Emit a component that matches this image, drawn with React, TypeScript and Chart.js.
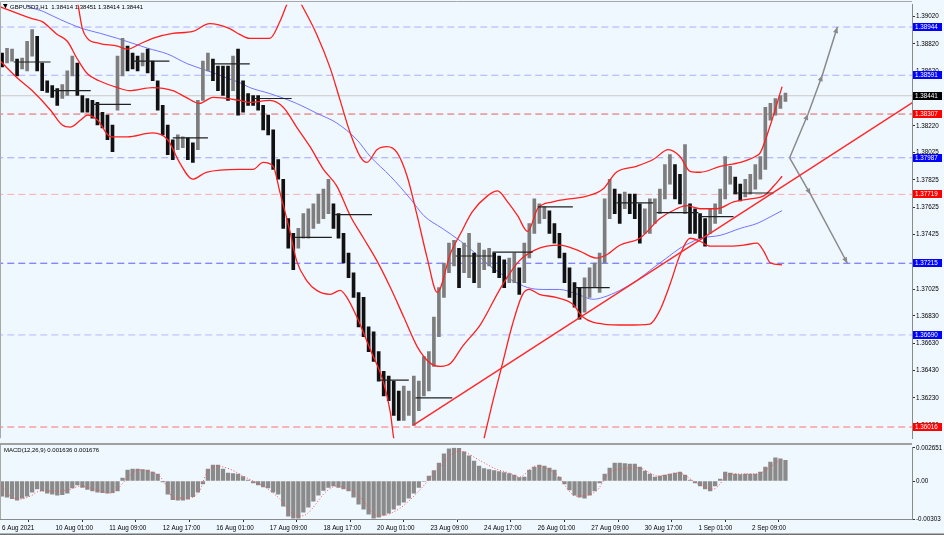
import React, { useEffect, useRef } from "react";
import { Chart, registerables } from "chart.js";

Chart.register(...registerables);

const FONT_FAMILY = "'Liberation Sans', 'DejaVu Sans', Arial, sans-serif";
const BG = "#f0f8ff";

// ---- time axis (bar index, 1 bar = 1 hour, weekends skipped) ----
const X_MIN = -1.2;
const X_MAX = 543.6;
const BAR_STEP = 3;
const TIME_TICKS = [0, 32, 64, 96, 128, 160, 192, 224, 256, 288, 320, 352, 384, 416, 448];
const TIME_LABELS = [
  "6 Aug 2021", "10 Aug 01:00", "11 Aug 09:00", "12 Aug 17:00", "16 Aug 01:00",
  "17 Aug 09:00", "18 Aug 17:00", "20 Aug 01:00", "23 Aug 09:00", "24 Aug 17:00",
  "26 Aug 01:00", "27 Aug 09:00", "30 Aug 17:00", "1 Sep 01:00", "2 Sep 09:00",
];

// ---- price axis ----
const PRICE_MIN = 1.35934;
const PRICE_MAX = 1.39107;
const PRICE_TICKS = [
  1.3902, 1.3882, 1.3862, 1.3842, 1.3822, 1.38025, 1.37825, 1.37625, 1.37425,
  1.37225, 1.37025, 1.3683, 1.3663, 1.3643, 1.3623, 1.3603,
];

// ---- price bars (high / low, one entry per 3 hourly bars) ----
const HIGHS = [
  1.38753, 1.38789, 1.38782, 1.3871, 1.38717, 1.3884, 1.38926, 1.38876, 1.38681, 1.38551,
  1.38515, 1.38494, 1.38522, 1.38623, 1.38731, 1.38681, 1.38443, 1.38421, 1.38407, 1.38393,
  1.3832, 1.38299, 1.38227, 1.38731, 1.38861, 1.38804, 1.38753, 1.38731, 1.38753, 1.38782,
  1.38695, 1.38551, 1.38371, 1.38227, 1.38119, 1.38155, 1.3814, 1.38133, 1.38097, 1.38407,
  1.38695, 1.38753, 1.3871, 1.38659, 1.38659, 1.38659, 1.38731, 1.38782, 1.38551, 1.38457,
  1.38443, 1.38443, 1.38371, 1.38299, 1.38191, 1.37974, 1.3783, 1.37542, 1.37434, 1.3747,
  1.37578, 1.37614, 1.3765, 1.37722, 1.37758, 1.3783, 1.3765, 1.37578, 1.37434, 1.37289,
  1.37145, 1.37001, 1.36965, 1.36749, 1.36713, 1.36568, 1.36424, 1.36388, 1.36352, 1.3628,
  1.36316, 1.3628, 1.36388, 1.36352, 1.36532, 1.36568, 1.36821, 1.37037, 1.37217, 1.37362,
  1.37383, 1.37325, 1.37362, 1.37434, 1.37289, 1.37362, 1.37311, 1.37325, 1.37289, 1.37268,
  1.37239, 1.37253, 1.37289, 1.37181, 1.37362, 1.37506, 1.37686, 1.3765, 1.37628, 1.37599,
  1.37506, 1.37434, 1.37289, 1.37181, 1.37073, 1.37037, 1.37109, 1.37181, 1.37217, 1.37289,
  1.37686, 1.3783, 1.37758, 1.37722, 1.37736, 1.37722, 1.37722, 1.3765, 1.37614, 1.37686,
  1.37686, 1.37758, 1.37938, 1.3801, 1.37938, 1.37866, 1.38083, 1.3765, 1.37614, 1.37578,
  1.37542, 1.37614, 1.3765, 1.37758, 1.37996, 1.37924, 1.37845, 1.37794, 1.3783, 1.37866,
  1.37938, 1.37996, 1.38357, 1.38385, 1.38421, 1.38443, 1.3846,
];
const LOWS = [
  1.38652, 1.38681, 1.38695, 1.38587, 1.38638, 1.38623, 1.38731, 1.38623, 1.38479, 1.38465,
  1.38429, 1.38371, 1.38421, 1.38443, 1.38587, 1.38443, 1.3832, 1.3832, 1.38277, 1.38227,
  1.38205, 1.38119, 1.38032, 1.38335, 1.38587, 1.38623, 1.38638, 1.38623, 1.38659, 1.38609,
  1.38551, 1.38335, 1.38155, 1.3801, 1.37974, 1.38046, 1.38061, 1.37974, 1.37953, 1.38046,
  1.38407, 1.38623, 1.38551, 1.38479, 1.38443, 1.38407, 1.38479, 1.38299, 1.3832, 1.38371,
  1.38371, 1.38335, 1.38191, 1.38155, 1.37902, 1.3783, 1.3747, 1.37325, 1.37167, 1.37325,
  1.37398, 1.37398, 1.3747, 1.37506, 1.37542, 1.37578, 1.3747, 1.37398, 1.37217, 1.37109,
  1.36965, 1.36749, 1.36677, 1.36568, 1.36496, 1.36352, 1.36244, 1.36208, 1.361, 1.36064,
  1.36064, 1.361, 1.36028, 1.36136, 1.36244, 1.3628, 1.3646, 1.36677, 1.36965, 1.37145,
  1.37196, 1.37037, 1.37145, 1.37109, 1.37073, 1.37037, 1.37167, 1.37196, 1.37145, 1.37109,
  1.37037, 1.37073, 1.37073, 1.36987, 1.37073, 1.37253, 1.37434, 1.37506, 1.37542, 1.37434,
  1.37362, 1.37253, 1.37073, 1.36965, 1.36893, 1.36806, 1.36857, 1.36965, 1.37037, 1.37001,
  1.37217, 1.37542, 1.37578, 1.37506, 1.37614, 1.37578, 1.37542, 1.37362, 1.37434, 1.37434,
  1.37506, 1.37578, 1.37686, 1.37794, 1.37686, 1.3765, 1.37578, 1.37434, 1.37434, 1.37398,
  1.3734, 1.37434, 1.37506, 1.37578, 1.37686, 1.37794, 1.37722, 1.37672, 1.377, 1.37722,
  1.37758, 1.3783, 1.37902, 1.38263, 1.38299, 1.38349, 1.384,
];

// ---- Bollinger bands (bar index, price) ----
const BB_UPPER = [
  [40, 1.39272], [45, 1.39128], [48, 1.38933], [51, 1.38861], [58, 1.38825], [69, 1.38804],
  [75, 1.38782], [82, 1.38818], [90, 1.38861], [102, 1.38897], [114, 1.38912], [124, 1.38969],
  [136, 1.38933], [142, 1.3889], [148, 1.38861], [160, 1.38861], [166, 1.38984], [170, 1.39106],
  [174, 1.39215], [178, 1.39128], [188, 1.3889], [196, 1.38645], [202, 1.38407], [208, 1.38169],
  [214, 1.37996], [218, 1.37953], [224, 1.38046], [230, 1.38068], [236, 1.38025], [242, 1.37852],
  [248, 1.37563], [254, 1.37253], [260, 1.37001], [268, 1.37289], [274, 1.37434], [281, 1.37592],
  [290, 1.37708], [296, 1.37744], [302, 1.37664], [308, 1.37563], [314, 1.37448], [320, 1.37614],
  [329, 1.37664], [339, 1.37686], [350, 1.37708], [359, 1.37758], [367, 1.37881], [379, 1.37924],
  [389, 1.37974], [398, 1.38046], [405, 1.37996], [411, 1.37888], [417, 1.37881], [429, 1.37924],
  [441, 1.37953], [450, 1.37996], [453, 1.38025], [459, 1.38227], [466, 1.38508],
];
const BB_MIDDLE = [
  [-1, 1.39092], [18, 1.39005], [24, 1.38984], [33, 1.3889], [39, 1.3884], [45, 1.3871],
  [51, 1.38602], [58, 1.38551], [69, 1.38501], [76, 1.38479], [90, 1.38501], [102, 1.38479],
  [110, 1.38429], [118, 1.38385], [126, 1.38429], [142, 1.38407], [148, 1.38393], [160, 1.38407],
  [168, 1.38357], [176, 1.38212], [184, 1.38068], [192, 1.37902], [200, 1.3778], [208, 1.37563],
  [216, 1.37398], [224, 1.37232], [232, 1.37037], [240, 1.36821], [248, 1.36605], [256, 1.36482],
  [262, 1.3646], [268, 1.36482], [275, 1.36605], [286, 1.3677], [298, 1.37037], [309, 1.37232],
  [321, 1.37325], [333, 1.37347], [345, 1.37304], [355, 1.37253], [361, 1.37275], [369, 1.37347],
  [381, 1.37398], [393, 1.37542], [403, 1.37614], [409, 1.37636], [417, 1.37614], [427, 1.37614],
  [437, 1.37664], [447, 1.37686], [455, 1.37708], [461, 1.3778], [466, 1.37852],
];
const BB_LOWER = [
  [-1, 1.38695], [9, 1.38573], [18, 1.38479], [29, 1.38335], [36, 1.38227], [41, 1.38212],
  [47, 1.38263], [51, 1.38299], [57, 1.38263], [65, 1.3814], [75, 1.3814], [90, 1.38169],
  [99, 1.38119], [106, 1.37953], [114, 1.3783], [122, 1.37881], [142, 1.37902], [150, 1.37902],
  [156, 1.37953], [162, 1.37924], [166, 1.37736], [172, 1.37448], [176, 1.37232], [182, 1.37088],
  [188, 1.37016], [196, 1.36987], [202, 1.37016], [206, 1.36965], [212, 1.36821], [220, 1.36583],
  [228, 1.36338], [232, 1.36121], [234, 1.35934], [244, 1.35523], [262, 1.35235], [280, 1.35523],
  [288, 1.35934], [293, 1.36194], [299, 1.36482], [305, 1.3677], [311, 1.36987], [315, 1.37023],
  [321, 1.36987], [331, 1.36965], [341, 1.36915], [347, 1.36821], [359, 1.3677], [373, 1.36763],
  [387, 1.3677], [393, 1.36871], [399, 1.37059], [405, 1.37275], [411, 1.37398], [417, 1.37376],
  [423, 1.3734], [435, 1.3734], [443, 1.37347], [451, 1.37362], [455, 1.37304], [459, 1.37217],
  [466, 1.37203],
];
// ---- slow moving average (blue) ----
const MA_BLUE = [
  [11, 1.39164], [15, 1.39106], [25, 1.39056], [35, 1.38998], [48, 1.38933], [59, 1.38897],
  [69, 1.38861], [78, 1.38825], [87, 1.38789], [99, 1.38746], [111, 1.38674], [123, 1.38623],
  [134, 1.38573], [142, 1.38537], [148, 1.38501], [160, 1.38457], [176, 1.38385], [188, 1.38313],
  [200, 1.38241], [212, 1.38119], [220, 1.37996], [232, 1.37852], [244, 1.37686], [252, 1.37563],
  [263, 1.3747], [274, 1.37376], [284, 1.37275], [293, 1.37181], [304, 1.37095], [314, 1.37037],
  [323, 1.37023], [333, 1.37023], [344, 1.36987], [353, 1.36951], [359, 1.36965], [369, 1.37016],
  [379, 1.37088], [389, 1.37181], [397, 1.37253], [405, 1.37325], [413, 1.37376], [417, 1.37398],
  [429, 1.37419], [441, 1.3747], [451, 1.37506], [457, 1.37542], [466, 1.376],
];

// ---- drawn objects ----
const TREND_LINE = [[245.5, 1.36028], [545, 1.384]];
const DAILY_SEGMENTS = [
  [7, 29, 1.38688], [31, 53, 1.38479], [54, 77, 1.38378], [78, 100, 1.38695], [102, 123, 1.38133],
  [126, 148, 1.38674], [151, 173, 1.38421], [174, 197, 1.37405], [199, 221, 1.37571],
  [224, 243, 1.36359], [247, 269, 1.36229], [271, 293, 1.37268], [293, 317, 1.37297],
  [320, 341, 1.37628], [342, 363, 1.37037], [367, 389, 1.37657], [391, 416, 1.37585],
  [416, 437, 1.37556], [437, 461, 1.37729],
];
const ARROW_UP = [[470.5, 1.37987], [481.5, 1.38307], [490, 1.38591], [499, 1.38944]];
const ARROW_DOWN = [[470.5, 1.37987], [483, 1.37719], [505, 1.37215]];

const LEVEL_VALUES = [1.38944, 1.38591, 1.38441, 1.38307, 1.37987, 1.37719, 1.37215, 1.3669, 1.36016];
const LEVEL_LABELS = ["1.38944", "1.38591", "1.38441", "1.38307", "1.37987", "1.37719", "1.37215", "1.36690", "1.36016"];
const LEVEL_LINE_COLORS = ["#a9adff", "#a9adff", "#c8c8c8", "#e06060", "#a0a4ff", "#ffaaaa", "#5a5aff", "#b4b8ff", "#ff7070"];
const LEVEL_DASHED = [true, true, false, true, true, true, true, true, true];
const LEVEL_BOX_COLORS = ["#0000ff", "#0000ff", "#000000", "#ff0000", "#0000ff", "#ff0000", "#0000ff", "#0000ff", "#ff0000"];

const TITLE_TEXT = "GBPUSD3,H1  1.38414 1.38451 1.38414 1.38441";

// ---- MACD(12,26,9) ----
const MACD_MIN = -0.00303;
const MACD_MAX = 0.002651;
const MACD_TICKS = [0.002651, 0, -0.00303];
const MACD_TICK_LABELS = ["0.002651", "0.00", "-0.00303"];
const MACD_TITLE = "MACD(12,26,9) 0.001636 0.001676";
const MACD_HIST = [
  -0.0012, -0.00128, -0.0014, -0.00152, -0.00136, -0.0012, -0.00088, -0.00064, -0.0008, -0.00096,
  -0.00104, -0.00112, -0.00108, -0.00096, -0.00056, -0.00032, -0.00052, -0.00068, -0.0008, -0.00088,
  -0.00092, -0.00096, -0.00092, -0.0008, 0.00024, 0.00088, 0.00096, 0.00096, 0.00092, 0.00088,
  0.00072, 0.00056, -0.00008, -0.00104, -0.00148, -0.00152, -0.00152, -0.00144, -0.00124, -0.00088,
  -0.00024, 0.00096, 0.00128, 0.00128, 0.00096, 0.00064, 0.0006, 0.00056, 0.00036, 0.00008,
  -0.00016, -0.00032, -0.00048, -0.00056, -0.00088, -0.00104, -0.002, -0.0028, -0.00296, -0.00296,
  -0.00248, -0.00208, -0.0016, -0.00112, -0.00076, -0.00052, -0.0004, -0.00052, -0.00064, -0.0008,
  -0.00128, -0.00184, -0.00224, -0.00264, -0.00296, -0.00288, -0.00272, -0.00256, -0.00224, -0.00192,
  -0.00168, -0.00136, -0.00096, -0.00052, -0.00004, 0.0004, 0.00084, 0.00144, 0.00216, 0.00256,
  0.00264, 0.0026, 0.00232, 0.002, 0.0016, 0.0012, 0.001, 0.00092, 0.00084, 0.00076,
  0.00068, 0.0006, 0.00048, 0.00028, 0.00032, 0.00088, 0.00112, 0.00128, 0.0012, 0.00104,
  0.00088, 0.00032, -0.00024, -0.00072, -0.00112, -0.00128, -0.00136, -0.00112, -0.0008, -0.00016,
  0.00056, 0.00104, 0.00144, 0.00144, 0.0014, 0.00136, 0.00136, 0.00112, 0.0008, 0.00056,
  0.00032, 0.0004, 0.00048, 0.00056, 0.00064, 0.00072, 0.00048, 0.00008, -0.00016, -0.0004,
  -0.00064, -0.0008, -0.0004, 0.00016, 0.00072, 0.00064, 0.00056, 0.00052, 0.00056, 0.00056,
  0.00056, 0.00072, 0.00112, 0.00152, 0.00184, 0.00176, 0.00164,
];
const MACD_SIGNAL = [
  [0, -0.0004], [3, -0.00096], [7, -0.00136], [11, -0.00144], [17, -0.0012], [23, -0.0008],
  [30, -0.0008], [39, -0.00072], [47, -0.0004], [53, -0.00056], [59, -0.0008], [66, -0.00096],
  [69, -0.00064], [75, 0.00024], [81, 0.00088], [87, 0.0008], [94, 0.0004], [99, -0.00056],
  [102, -0.00136], [111, -0.00136], [118, -0.0008], [122, 0.00056], [128, 0.0012], [136, 0.00096],
  [144, 0.0004], [150, 0], [158, -0.00056], [166, -0.00144], [172, -0.0024], [178, -0.0028],
  [182, -0.00264], [194, -0.0008], [200, -0.0004], [212, -0.00104], [225, -0.0028], [237, -0.00224],
  [249, -0.0008], [261, 0.00104], [273, 0.0024], [286, 0.0016], [295, 0.00096], [303, 0.00064],
  [309, 0.00032], [319, 0.0012], [331, 0.00056], [343, -0.0012], [355, -0.0008], [364, 0.0008],
  [380, 0.00104], [392, 0.0004], [404, 0.00064], [416, -0.00024], [425, -0.00064], [435, 0.00056],
  [450, 0.00056], [465, 0.001676],
];

const AXIS_FONT = { family: FONT_FAMILY, size: 6.3 };

function pts(list: number[][]) {
  return list.map(([x, y]) => ({ x, y }));
}

function lineDs(data: any[], color: string, width: number, order: number, extra: any = {}) {
  return {
    type: "line",
    data,
    borderColor: color,
    borderWidth: width,
    pointRadius: 0,
    pointHoverRadius: 0,
    fill: false,
    order,
    ...extra,
  };
}

const mainDecor = {
  id: "mainDecor",
  afterDraw(chart: any) {
    const { ctx, chartArea, scales } = chart;
    ctx.save();
    // frame
    ctx.strokeStyle = "#a8a8a8";
    ctx.lineWidth = 1;
    ctx.beginPath();
    ctx.moveTo(0.5, chartArea.bottom);
    ctx.lineTo(0.5, 1.5);
    ctx.lineTo(chartArea.right, 1.5);
    ctx.stroke();

    // arrow heads
    chart.data.datasets.forEach((ds: any, di: number) => {
      if (!ds.arrowHeads) return;
      const meta = chart.getDatasetMeta(di);
      const p = meta.data;
      ctx.fillStyle = ds.borderColor;
      for (let j = 1; j < p.length; j++) {
        const a = Math.atan2(p[j].y - p[j - 1].y, p[j].x - p[j - 1].x);
        const L = 6, W = 2.6;
        ctx.beginPath();
        ctx.moveTo(p[j].x, p[j].y);
        ctx.lineTo(p[j].x - L * Math.cos(a) + W * Math.sin(a), p[j].y - L * Math.sin(a) - W * Math.cos(a));
        ctx.lineTo(p[j].x - L * Math.cos(a) - W * Math.sin(a), p[j].y - L * Math.sin(a) + W * Math.cos(a));
        ctx.closePath();
        ctx.fill();
      }
    });

    // level boxes on price axis
    const y = scales.y;
    ctx.font = `6.3px ${FONT_FAMILY}`;
    ctx.textBaseline = "middle";
    ctx.textAlign = "left";
    LEVEL_VALUES.forEach((v, i) => {
      const py = Math.round(y.getPixelForValue(v));
      ctx.fillStyle = LEVEL_BOX_COLORS[i];
      ctx.fillRect(chartArea.right + 1, py - 4, 29, 8);
      ctx.fillStyle = "#ffffff";
      ctx.fillText(LEVEL_LABELS[i], chartArea.right + 3, py + 0.5);
    });

    // title
    ctx.fillStyle = "#000";
    ctx.beginPath();
    ctx.moveTo(3, 4);
    ctx.lineTo(7.5, 4);
    ctx.lineTo(5.5, 8.5);
    ctx.closePath();
    ctx.fill();
    ctx.font = `6px ${FONT_FAMILY}`;
    ctx.fillText(TITLE_TEXT, 10, 7);
    ctx.restore();
  },
};

const macdDecor = {
  id: "macdDecor",
  afterDraw(chart: any) {
    const { ctx, chartArea, width, height } = chart;
    ctx.save();
    ctx.fillStyle = "#a0a0a0";
    ctx.fillRect(0, 0, chartArea.right, 2);
    ctx.strokeStyle = "#a8a8a8";
    ctx.lineWidth = 1;
    ctx.beginPath();
    ctx.moveTo(0.5, 2);
    ctx.lineTo(0.5, chartArea.bottom);
    ctx.stroke();
    ctx.fillStyle = "#707070";
    ctx.fillRect(0, height - 1.5, width, 1.5);
    ctx.fillStyle = "#000";
    ctx.font = `6px ${FONT_FAMILY}`;
    ctx.textBaseline = "middle";
    ctx.textAlign = "left";
    ctx.fillText(MACD_TITLE, 4, chartArea.top + 3);
    ctx.restore();
  },
};

function mainConfig(): any {
  const barColors = HIGHS.map((h, k) => {
    if (k === 0) return "#000";
    const m = (h + LOWS[k]) / 2;
    const pm = (HIGHS[k - 1] + LOWS[k - 1]) / 2;
    return m >= pm ? "#7d7d7d" : "#111111";
  });
  const dailyPts: any[] = [];
  DAILY_SEGMENTS.forEach(([a, b, p]) => {
    dailyPts.push({ x: a, y: p }, { x: b, y: p }, { x: b, y: null });
  });
  const datasets: any[] = [
    ...LEVEL_VALUES.map((v, i) =>
      lineDs([{ x: -10, y: v }, { x: 560, y: v }], LEVEL_LINE_COLORS[i], 1, 10, {
        borderDash: LEVEL_DASHED[i] ? [7, 4] : [],
      })
    ),
    lineDs(pts(MA_BLUE), "#7373ff", 1, 6, { cubicInterpolationMode: "monotone" }),
    {
      type: "bar",
      data: HIGHS.map((h, k) => ({ x: k * BAR_STEP, y: [LOWS[k], h] })),
      backgroundColor: barColors,
      borderWidth: 0,
      barThickness: 3,
      order: 5,
    },
    lineDs(pts(BB_UPPER), "#ff1f1f", 1.3, 3, { cubicInterpolationMode: "monotone" }),
    lineDs(pts(BB_MIDDLE), "#ff1f1f", 1.3, 3, { cubicInterpolationMode: "monotone" }),
    lineDs(pts(BB_LOWER), "#ff1f1f", 1.3, 3, { cubicInterpolationMode: "monotone" }),
    lineDs(dailyPts, "#202020", 1.2, 2, { spanGaps: false }),
    lineDs(pts(TREND_LINE), "#ff2a2a", 1.5, 1),
    lineDs(pts(ARROW_UP), "#8a8a8a", 1.5, 1, { arrowHeads: true }),
    lineDs(pts(ARROW_DOWN), "#8a8a8a", 1.5, 1, { arrowHeads: true }),
  ];
  return {
    type: "bar",
    data: { datasets },
    options: {
      animation: false,
      responsive: false,
      devicePixelRatio: 1,
      events: [],
      layout: { padding: { top: 3, bottom: 0, left: 0, right: 0 } },
      plugins: { legend: { display: false }, tooltip: { enabled: false } },
      scales: {
        x: {
          type: "linear",
          min: X_MIN,
          max: X_MAX,
          offset: false,
          display: false,
        },
        y: {
          position: "right",
          min: PRICE_MIN,
          max: PRICE_MAX,
          afterBuildTicks: (ax: any) => {
            ax.ticks = PRICE_TICKS.map((v) => ({ value: v }));
          },
          afterFit: (s: any) => {
            s.width = 32;
          },
          ticks: {
            font: AXIS_FONT,
            color: "#000",
            padding: 1,
            callback: (v: any) => Number(v).toFixed(5),
          },
          grid: { display: true, drawOnChartArea: false, drawTicks: true, tickLength: 3, color: "#303030" },
          border: { display: true, color: "#8a8a8a", width: 1 },
        },
      },
    },
    plugins: [mainDecor],
  };
}

function macdConfig(): any {
  return {
    type: "bar",
    data: {
      datasets: [
        lineDs(pts(MACD_SIGNAL), "#ff4d4d", 1, 1, {
          borderDash: [1, 2],
          cubicInterpolationMode: "monotone",
        }),
        {
          type: "bar",
          data: MACD_HIST.map((v, k) => ({ x: k * BAR_STEP, y: v })),
          backgroundColor: "#8a8a8a",
          borderWidth: 0,
          barThickness: 3.6,
          order: 2,
        },
      ],
    },
    options: {
      animation: false,
      responsive: false,
      devicePixelRatio: 1,
      events: [],
      layout: { padding: { top: 4, bottom: 0, left: 0, right: 0 } },
      plugins: { legend: { display: false }, tooltip: { enabled: false } },
      scales: {
        x: {
          type: "linear",
          min: X_MIN,
          max: X_MAX,
          offset: false,
          afterBuildTicks: (ax: any) => {
            ax.ticks = TIME_TICKS.map((v) => ({ value: v }));
          },
          afterFit: (s: any) => {
            s.height = 16;
          },
          ticks: {
            font: AXIS_FONT,
            color: "#000",
            padding: 2,
            align: "start",
            autoSkip: false,
            maxRotation: 0,
            minRotation: 0,
            callback: (_v: any, i: number) => TIME_LABELS[i],
          },
          grid: { display: true, drawOnChartArea: false, drawTicks: true, tickLength: 3, color: "#303030" },
          border: { display: true, color: "#8a8a8a", width: 1 },
        },
        y: {
          position: "right",
          min: MACD_MIN,
          max: MACD_MAX,
          afterBuildTicks: (ax: any) => {
            ax.ticks = MACD_TICKS.map((v) => ({ value: v }));
          },
          afterFit: (s: any) => {
            s.width = 32;
          },
          ticks: {
            font: AXIS_FONT,
            color: "#000",
            padding: 1,
            callback: (_v: any, i: number) => MACD_TICK_LABELS[i],
          },
          grid: { display: true, drawOnChartArea: false, drawTicks: true, tickLength: 3, color: "#303030" },
          border: { display: true, color: "#8a8a8a", width: 1 },
        },
      },
    },
    plugins: [macdDecor],
  };
}

export default function App() {
  const mainRef = useRef<HTMLCanvasElement>(null);
  const macdRef = useRef<HTMLCanvasElement>(null);
  useEffect(() => {
    document.body.style.margin = "0";
    document.body.style.background = BG;
    const c1 = new Chart(mainRef.current as HTMLCanvasElement, mainConfig());
    const c2 = new Chart(macdRef.current as HTMLCanvasElement, macdConfig());
    return () => {
      c1.destroy();
      c2.destroy();
    };
  }, []);
  return (
    <div style={{ position: "relative", width: 944, height: 535, background: BG, overflow: "hidden" }}>
      <canvas
        ref={mainRef}
        width={944}
        height={443}
        style={{ position: "absolute", left: 0, top: 0, width: 944, height: 443 }}
      />
      <canvas
        ref={macdRef}
        width={944}
        height={92}
        style={{ position: "absolute", left: 0, top: 443, width: 944, height: 92 }}
      />
    </div>
  );
}
